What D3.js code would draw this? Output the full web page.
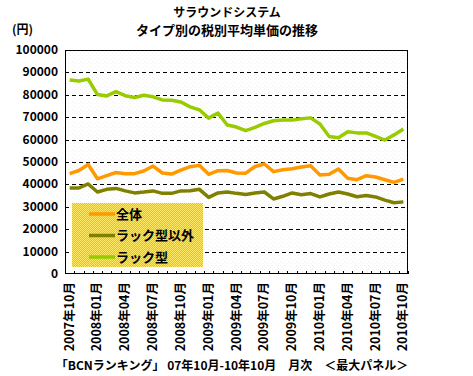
<!DOCTYPE html>
<html>
<head>
<meta charset="utf-8">
<script src="https://cdn.jsdelivr.net/npm/d3@7"></script>
<style>
  body { margin: 0; background: #fff; }
  svg { display: block; font-family: "Noto Sans CJK JP", "DejaVu Sans", sans-serif; font-weight: bold; }
</style>
</head>
<body>
<div id="chart"></div>
<script>
(function() {
  // months 2007/10 .. 2010/10
  const months = [];
  for (let y = 2007, m = 10; y < 2010 || (y === 2010 && m <= 10); ) {
    months.push(`${y}年${String(m).padStart(2, "0")}月`);
    m++; if (m > 12) { m = 1; y++; }
  }

  const seriesNames = ["全体", "ラック型以外", "ラック型"];
  const seriesColors = ["#FF9900", "#808000", "#99CC00"];

  const total = [44800, 46200, 48900, 42500, 43900, 45300, 44800, 44800, 46000, 48200,
    45100, 44600, 46400, 47900, 48500, 44500, 46100, 46200, 45100, 45000,
    48000, 49100, 45700, 46500, 47000, 47800, 48300, 44200, 44500, 46900,
    42700, 42100, 43900, 43300, 42100, 40900, 42400];
  const nonRack = [38400, 38400, 40200, 36600, 37800, 38200, 37100, 36200, 36600, 37100,
    36000, 36000, 37100, 37200, 37800, 34200, 36200, 36600, 36000, 35500,
    36200, 36600, 33500, 34700, 36200, 35400, 35900, 34400, 35700, 36600,
    35700, 34500, 35000, 34400, 33000, 31800, 32200];
  const rack = [86600, 86200, 87000, 80100, 79500, 81400, 79600, 78800, 79800, 79100,
    77700, 77600, 76800, 74600, 73300, 69600, 71900, 66500, 65600, 64000,
    65500, 67200, 68400, 68700, 68700, 69300, 69700, 67000, 61400, 60800,
    63500, 63000, 63000, 61400, 59800, 62100, 64700];
  const seriesData = [total, nonRack, rack];

  const yTicks = [0, 10000, 20000, 30000, 40000, 50000, 60000, 70000, 80000, 90000, 100000];

  const width = 473, height = 376;
  const margin = { top: 50, right: 65, bottom: 102, left: 65 };
  const innerW = width - margin.left - margin.right;
  const innerH = height - margin.top - margin.bottom;

  const svg = d3.select("#chart").append("svg")
    .attr("width", width)
    .attr("height", height);

  const defs = svg.append("defs");
  const bgPat = defs.append("pattern")
    .attr("id", "bgdots").attr("width", 4).attr("height", 4)
    .attr("patternUnits", "userSpaceOnUse");
  bgPat.append("rect").attr("width", 4).attr("height", 4).attr("fill", "#fff");
  bgPat.append("rect").attr("x", 1).attr("y", 1).attr("width", 1).attr("height", 1).attr("fill", "#F4F4D8");
  bgPat.append("rect").attr("x", 3).attr("y", 3).attr("width", 1).attr("height", 1).attr("fill", "#F4F4D8");

  const legPat = defs.append("pattern")
    .attr("id", "legdots").attr("width", 2).attr("height", 2)
    .attr("patternUnits", "userSpaceOnUse");
  legPat.append("rect").attr("width", 2).attr("height", 2).attr("fill", "#FFE866");
  legPat.append("rect").attr("width", 1).attr("height", 1).attr("fill", "#F2C200");
  legPat.append("rect").attr("x", 1).attr("y", 1).attr("width", 1).attr("height", 1).attr("fill", "#F2C200");

  const g = svg.append("g")
    .attr("transform", `translate(${margin.left},${margin.top})`);

  const x = d3.scaleBand().domain(months).range([0, innerW]);
  const y = d3.scaleLinear().domain([0, 100000]).range([innerH, 0]);

  g.append("rect")
    .attr("width", innerW).attr("height", innerH)
    .attr("fill", "url(#bgdots)");

  // Gridlines
  g.selectAll(".grid")
    .data(yTicks.filter(d => d > 0 && d < 100000))
    .join("line")
    .attr("x1", 0).attr("x2", innerW)
    .attr("y1", d => Math.round(y(d)) + 0.5).attr("y2", d => Math.round(y(d)) + 0.5)
    .attr("stroke", "#000")
    .attr("stroke-dasharray", "4,3");

  // Y labels
  svg.append("g").selectAll("text")
    .data(yTicks)
    .join("text")
    .attr("x", 58)
    .attr("y", d => margin.top + y(d) + 4)
    .attr("text-anchor", "end")
    .attr("font-size", "12px")
    .text(d => d);

  // X tick marks between categories (pointing up)
  const bounds = d3.range(months.length + 1).map(i => i * x.bandwidth());
  g.selectAll(".xt")
    .data(bounds)
    .join("line")
    .attr("x1", d => Math.round(d) + 0.5).attr("x2", d => Math.round(d) + 0.5)
    .attr("y1", innerH).attr("y2", innerH - 3)
    .attr("stroke", "#000");

  // X labels every 3 months
  svg.append("g").selectAll("text")
    .data(months.filter((d, i) => i % 3 === 0))
    .join("text")
    .attr("transform", d => `translate(${margin.left + x(d) + x.bandwidth() / 2 + 4},${margin.top + innerH + 8}) rotate(-90)`)
    .attr("text-anchor", "end")
    .attr("font-size", "12.5px")
    .text(d => d);

  // Legend
  const leg = g.append("g").attr("transform", "translate(7,153)");
  leg.append("rect")
    .attr("width", 131).attr("height", 64)
    .attr("fill", "url(#legdots)");
  seriesNames.forEach((name, i) => {
    const ly = 11 + i * 21.5;
    leg.append("line")
      .attr("x1", 17).attr("x2", 43)
      .attr("y1", ly).attr("y2", ly)
      .attr("stroke", seriesColors[i])
      .attr("stroke-width", 3.5);
    leg.append("text")
      .attr("x", 44).attr("y", ly + 4.5)
      .attr("font-size", "13px")
      .text(name);
  });

  // Lines
  const line = d3.line()
    .x((d, i) => x(months[i]) + x.bandwidth() / 2)
    .y(d => y(d));

  [2, 0, 1].forEach(k => {
    g.append("path")
      .datum(seriesData[k])
      .attr("fill", "none")
      .attr("stroke", seriesColors[k])
      .attr("stroke-width", 3.5)
      .attr("stroke-linejoin", "round")
      .attr("d", line);
  });

  // Frame
  g.append("rect")
    .attr("x", 0.5).attr("y", 0.5)
    .attr("width", innerW - 1).attr("height", innerH - 1)
    .attr("fill", "none")
    .attr("stroke", "#000");

  // Titles
  svg.append("text")
    .attr("x", 227).attr("y", 17)
    .attr("text-anchor", "middle")
    .attr("font-size", "12px")
    .text("サラウンドシステム");
  svg.append("text")
    .attr("x", 227).attr("y", 35)
    .attr("text-anchor", "middle")
    .attr("font-size", "13px")
    .text("タイプ別の税別平均単価の推移");
  svg.append("text")
    .attr("x", 12).attr("y", 34)
    .attr("font-size", "12px")
    .text("(円)");

  svg.append("text")
    .attr("x", 232).attr("y", 370)
    .attr("text-anchor", "middle")
    .attr("font-size", "12px")
    .text("「BCNランキング」 07年10月-10年10月　月次　＜最大パネル＞");
})();
</script>
</body>
</html>
